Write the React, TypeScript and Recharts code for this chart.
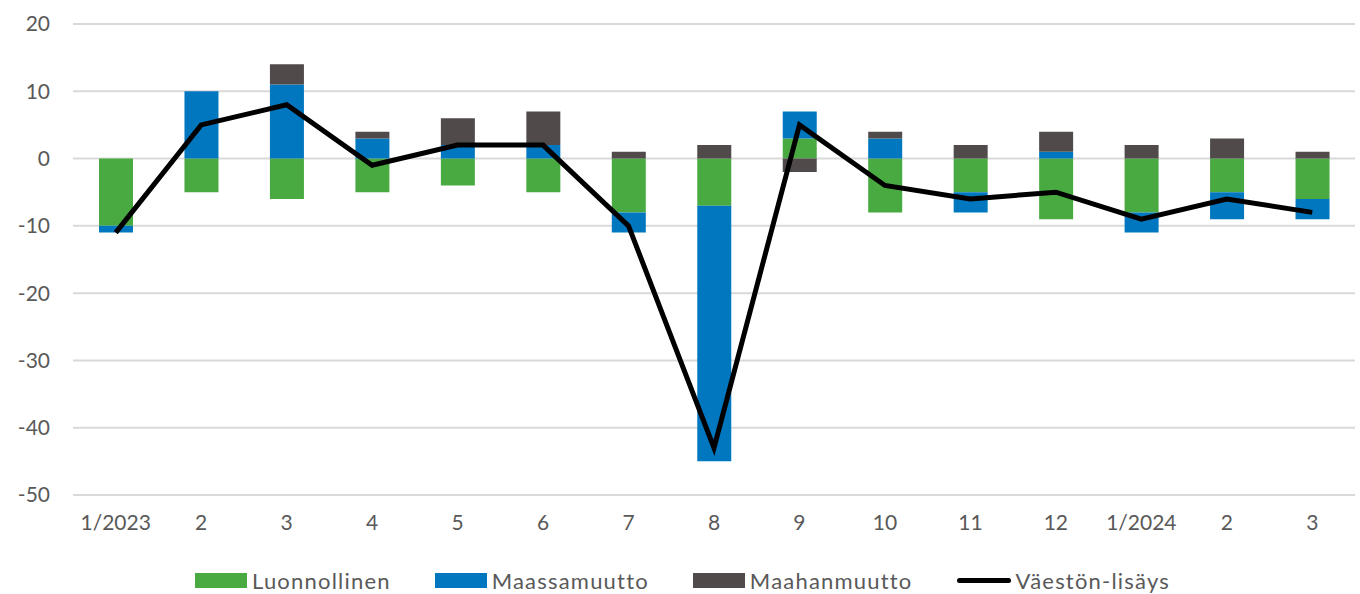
import React from "react";
import { ComposedChart, Bar, Line, XAxis, YAxis, CartesianGrid, Legend } from "recharts";

const categories = ["1/2023", "2", "3", "4", "5", "6", "7", "8", "9", "10", "11", "12", "1/2024", "2", "3"];
const luonnollinen = [-10, -5, -6, -5, -4, -5, -8, -7, 3, -8, -5, -9, -8, -5, -6];
const maassamuutto = [-1, 10, 11, 3, 2, 2, -3, -38, 4, 3, -3, 1, -3, -4, -3];
const maahanmuutto = [0, 0, 3, 1, 4, 5, 1, 2, -2, 1, 2, 3, 2, 3, 1];
const vaestonlisays = [-11, 5, 8, -1, 2, 2, -10, -43, 5, -4, -6, -5, -9, -6, -8];
const yTicks = [-50, -40, -30, -20, -10, 0, 10, 20];

const data = categories.map((c, i) => ({
  idx: i,
  label: c,
  Luonnollinen: luonnollinen[i],
  Maassamuutto: maassamuutto[i],
  Maahanmuutto: maahanmuutto[i],
  "Väestön-lisäys": vaestonlisays[i],
}));

const GREEN = "#4aaa42";
const BLUE = "#0077bf";
const GREY = "#504b4a";
const FONT = "Lato, 'Open Sans', sans-serif";
const TEXT = "#595959";

const legendItems = [
  { name: "Luonnollinen", color: GREEN, type: "rect" },
  { name: "Maassamuutto", color: BLUE, type: "rect" },
  { name: "Maahanmuutto", color: GREY, type: "rect" },
  { name: "Väestön-lisäys", color: "#000", type: "line" },
];

const renderLegend = () => (
  <div
    style={{
      display: "flex",
      justifyContent: "center",
      alignItems: "center",
      fontFamily: FONT,
      fontSize: 22,
      letterSpacing: "1.2px",
      color: TEXT,
      paddingTop: 22,
      paddingLeft: 10,
    }}
  >
    {legendItems.map((it) => (
      <div key={it.name} style={{ display: "flex", alignItems: "center", margin: "0 22px" }}>
        {it.type === "rect" ? (
          <div style={{ width: 52, height: 15, background: it.color, marginRight: 5 }} />
        ) : (
          <div style={{ width: 54, height: 5, background: it.color, borderRadius: 3, marginRight: 5 }} />
        )}
        <span>{it.name}</span>
      </div>
    ))}
  </div>
);

export default function App() {
  return (
    <div style={{ position: "absolute", left: 0, top: 0, width: 1360, height: 594, background: "#fff" }}>
      <ComposedChart
        width={1360}
        height={594}
        data={data}
        stackOffset="sign"
        margin={{ top: 24, right: 5, left: 0, bottom: 4 }}
      >
        <CartesianGrid vertical={false} stroke="#d9d9d9" strokeWidth={2} />
        <XAxis
          dataKey="idx"
          tickFormatter={(v: number) => categories[v]}
          axisLine={false}
          tickLine={false}
          tickSize={0}
          tickMargin={20}
          height={50}
          interval={0}
          tick={{ fill: TEXT, fontSize: 21, fontFamily: FONT }}
        />
        <YAxis
          domain={[-50, 20]}
          ticks={yTicks}
          axisLine={false}
          tickLine={false}
          tickSize={0}
          tickMargin={23}
          width={73}
          tick={{ fill: TEXT, fontSize: 21, fontFamily: FONT }}
        />
        <Legend verticalAlign="bottom" height={45} content={renderLegend} />
        <Bar dataKey="Luonnollinen" stackId="a" fill={GREEN} barSize={34} isAnimationActive={false} />
        <Bar dataKey="Maassamuutto" stackId="a" fill={BLUE} barSize={34} isAnimationActive={false} />
        <Bar dataKey="Maahanmuutto" stackId="a" fill={GREY} barSize={34} isAnimationActive={false} />
        <Line
          dataKey="Väestön-lisäys"
          stroke="#000"
          strokeWidth={5}
          dot={false}
          activeDot={false}
          isAnimationActive={false}
        />
      </ComposedChart>
    </div>
  );
}
